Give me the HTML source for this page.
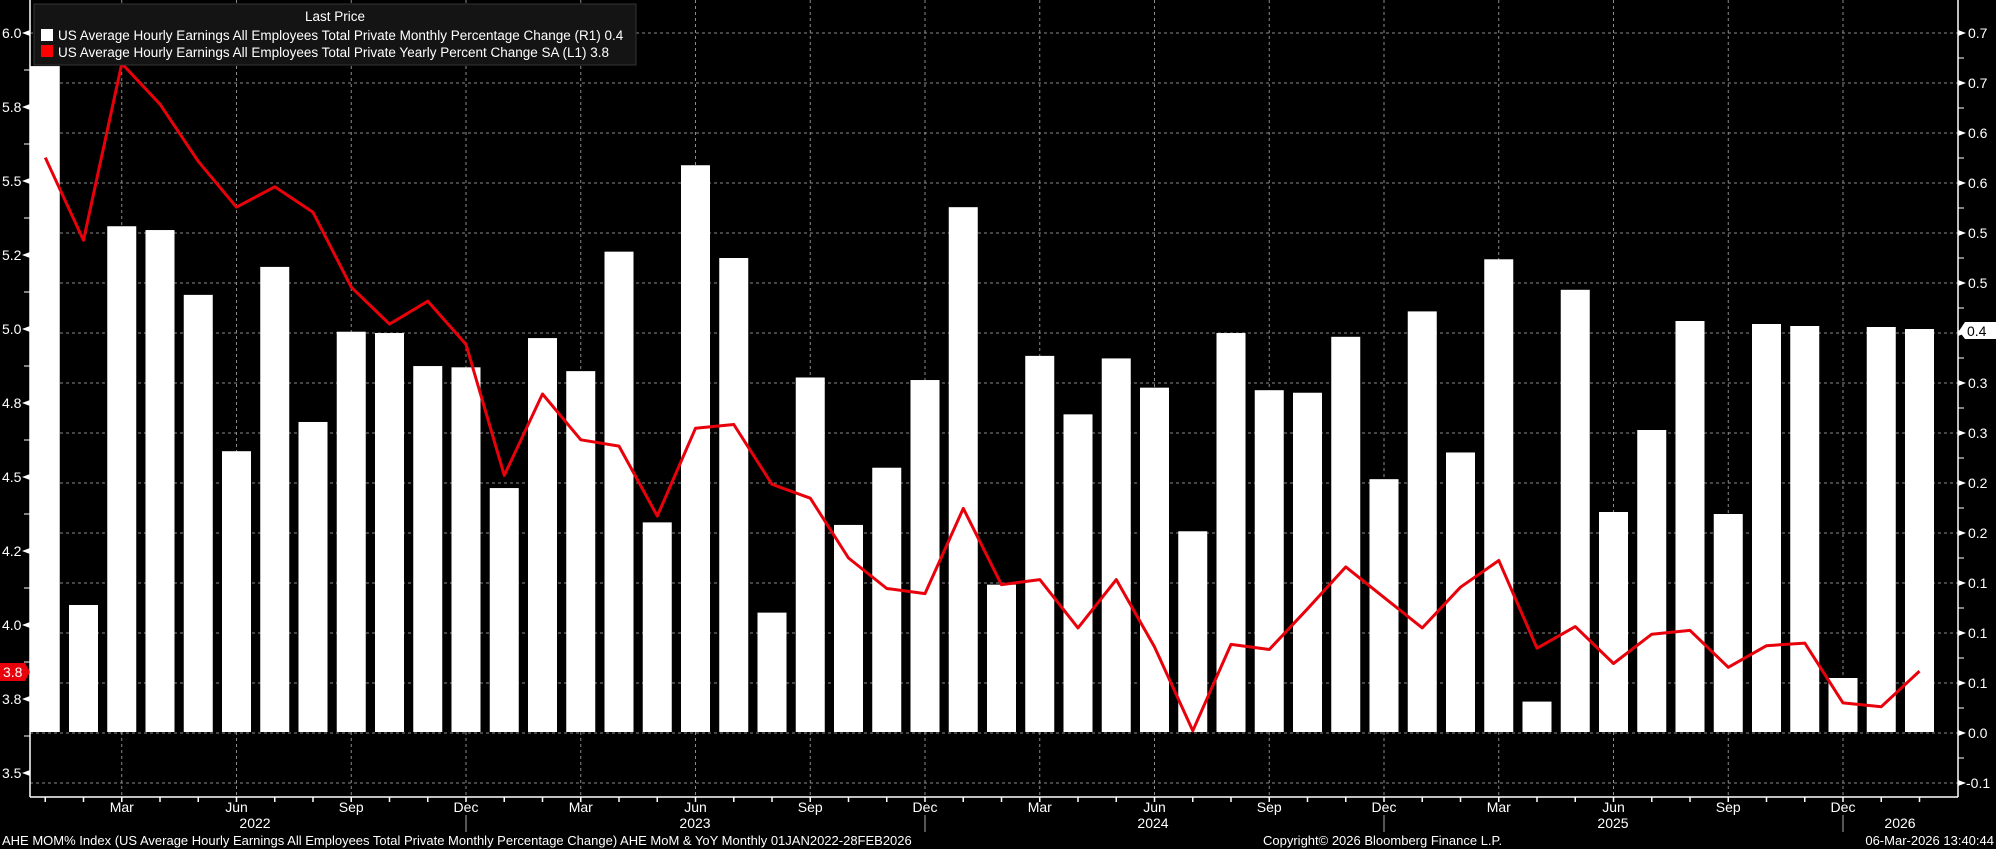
<!DOCTYPE html>
<html><head><meta charset="utf-8"><style>
html,body{margin:0;padding:0;background:#000;}
svg{display:block;font-family:"Liberation Sans",sans-serif;}
</style></head><body>
<svg id="s" width="1996" height="849" viewBox="0 0 1996 849" xmlns="http://www.w3.org/2000/svg">
<rect width="1996" height="849" fill="#000"/>
<g id="grid" stroke="#8a8a8a" stroke-width="1" stroke-dasharray="3,3"></g>
<g id="bars" fill="#fff"></g>
<polyline id="line" fill="none" stroke="#e8000b" stroke-width="3" stroke-linejoin="round"/>
<g id="axes" stroke="#fff" stroke-width="1.5"></g>
<!-- legend -->
<rect x="34" y="4" width="602" height="61" fill="#141414" stroke="#333" stroke-width="1"/>
<g font-size="13.5" fill="#fff">
<text x="335" y="21" text-anchor="middle">Last Price</text>
<rect x="41" y="29" width="12" height="12" fill="#fff"/>
<text x="58" y="40">US Average Hourly Earnings All Employees Total Private Monthly Percentage Change  (R1) 0.4</text>
<rect x="41" y="45" width="12" height="12" fill="#f00"/>
<text x="58" y="57">US Average Hourly Earnings All Employees Total Private Yearly Percent Change SA  (L1)   3.8</text>
</g>
<!-- left axis labels -->
<g font-size="14" fill="#fff">
<text x="2" y="38">6.0</text><text x="2" y="112">5.8</text><text x="2" y="186">5.5</text><text x="2" y="260">5.2</text>
<text x="2" y="334">5.0</text><text x="2" y="408">4.8</text><text x="2" y="482">4.5</text><text x="2" y="556">4.2</text>
<text x="2" y="630">4.0</text><text x="2" y="704">3.8</text><text x="2" y="778">3.5</text>
</g>
<polygon points="0,663 25,663 30,672 25,681 0,681" fill="#e8000b"/>
<text x="3" y="677" font-size="14" fill="#fff">3.8</text>
<!-- right axis labels -->
<g font-size="14" fill="#fff">
<text x="1968" y="38">0.7</text><text x="1968" y="88">0.7</text><text x="1968" y="138">0.6</text><text x="1968" y="188">0.6</text>
<text x="1968" y="238">0.5</text><text x="1968" y="288">0.5</text>
<text x="1968" y="388">0.3</text><text x="1968" y="438">0.3</text><text x="1968" y="488">0.2</text><text x="1968" y="538">0.2</text>
<text x="1968" y="588">0.1</text><text x="1968" y="638">0.1</text><text x="1968" y="688">0.1</text><text x="1968" y="738">0.0</text>
<text x="1966" y="788">-0.1</text>
</g>
<polygon points="1959,331 1965,322 1996,322 1996,339 1965,339" fill="#fff"/>
<text x="1967" y="336" font-size="14" fill="#000">0.4</text>
<!-- x labels -->
<g font-size="14" fill="#fff" text-anchor="middle">
<text x="121.75" y="812">Mar</text><text x="236.5" y="812">Jun</text><text x="351.25" y="812">Sep</text><text x="466" y="812">Dec</text>
<text x="580.75" y="812">Mar</text><text x="695.5" y="812">Jun</text><text x="810.25" y="812">Sep</text><text x="925" y="812">Dec</text>
<text x="1039.75" y="812">Mar</text><text x="1154.5" y="812">Jun</text><text x="1269.25" y="812">Sep</text><text x="1384" y="812">Dec</text>
<text x="1498.75" y="812">Mar</text><text x="1613.5" y="812">Jun</text><text x="1728.25" y="812">Sep</text><text x="1843" y="812">Dec</text>
<text x="255" y="828">2022</text><text x="695" y="828">2023</text><text x="1153" y="828">2024</text><text x="1613" y="828">2025</text><text x="1900" y="828">2026</text>
</g>
<g font-size="13" fill="#fff">
<text x="2" y="845">AHE MOM% Index (US Average Hourly Earnings All Employees Total Private Monthly Percentage Change) AHE MoM &amp; YoY Monthly 01JAN2022-28FEB2026</text>
<text x="1263" y="845">Copyright© 2026 Bloomberg Finance L.P.</text>
<text x="1994" y="845" text-anchor="end">06-Mar-2026 13:40:44</text>
</g>
</svg>
<script>
(function(){
var NS="http://www.w3.org/2000/svg";
function el(p,t,a){var e=document.createElementNS(NS,t);for(var k in a)e.setAttribute(k,a[k]);p.appendChild(e);return e;}
var g=document.getElementById('grid'),b=document.getElementById('bars'),ax=document.getElementById('axes');
function cx(i){return 45.25+38.25*i;}
for(var y=33;y<=783;y+=50){el(g,'line',{x1:30,x2:1958,y1:y,y2:y});}
for(var i=2;i<50;i+=3){el(g,'line',{x1:cx(i),x2:cx(i),y1:0,y2:797});}
var bt=[52,476,178,181,232,355,210,332,261,262,288,289,384,266,292,198,411,130,203,482,297,413,368,299,163,460,280,326,282,305,418,262,307,309,265,377,245,356,204,552,228,402,338,252,404,253,255,533,257,259];
for(var i=0;i<50;i++){var t=bt[i]*1.271;if(i>=41){t=[512,430,321,514,324,326,678,327,329][i-41];}
 var x=cx(i)-14.5;if(i==0){x=30;}
 el(b,'rect',{x:x,y:t,width:(i==0?29.75:29),height:732-t});}
var ly=[124,189,50,82,127,163,147,167,226,255,237,271,374,310,346,351,406,337,334,381,392,439,463,467,400,460,456,494,456,509,575,507,511,479,446,470,494,462,441,510,493,522,499,496,525,508,506,553,556,528];
var pts=[];for(var i=0;i<50;i++){pts.push(cx(i).toFixed(1)+','+(ly[i]*1.271).toFixed(1));}
document.getElementById('line').setAttribute('points',pts.join(' '));
el(ax,'line',{x1:30,x2:30,y1:0,y2:797});
el(ax,'line',{x1:1958,x2:1958,y1:0,y2:797});
el(ax,'line',{x1:30,x2:1958,y1:797,y2:797});
for(var i=0;i<50;i++){el(ax,'line',{x1:cx(i),x2:cx(i),y1:797,y2:802});}
[11,23,35,47].forEach(function(i){el(ax,'line',{x1:cx(i),x2:cx(i),y1:815,y2:832,'stroke-width':1,stroke:'#aaa'});});
for(var y=33;y<=783;y+=50){el(ax,'polygon',{points:'1958,'+(y-3)+' 1966,'+y+' 1958,'+(y+3),fill:'#fff',stroke:'none'});
 if(y+25<797)el(ax,'line',{x1:1958,x2:1964,y1:y+25,y2:y+25,'stroke-width':1});}
for(var y=33;y<=773;y+=74){el(ax,'polygon',{points:'30,'+(y-3)+' 22,'+y+' 30,'+(y+3),fill:'#fff',stroke:'none'});
 if(y+37<797)el(ax,'line',{x1:24,x2:30,y1:y+37,y2:y+37,'stroke-width':1});}
})();
</script>
</body></html>
